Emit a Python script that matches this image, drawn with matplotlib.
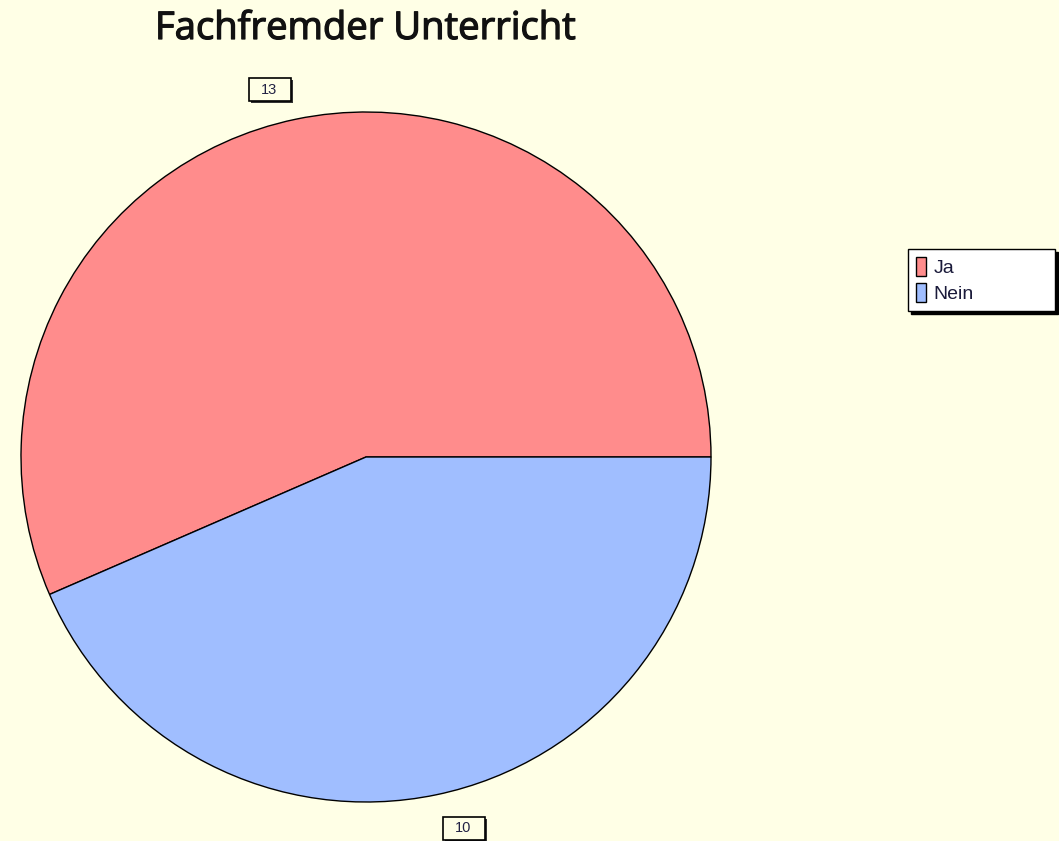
import matplotlib
matplotlib.use("Agg")
import matplotlib.pyplot as plt
import matplotlib.patheffects as pe
from matplotlib.patches import Rectangle

categories = ["Ja", "Nein"]
values = [13, 10]
colors = ["#FF8C8C", "#A0BEFF"]
title = "Fachfremder Unterricht"

W, H = 1059, 841
bg = "#FFFFE6"
fig = plt.figure(figsize=(W / 100, H / 100), dpi=100, facecolor=bg)
ax = fig.add_axes([0, 0, 1, 1])
ax.set_facecolor(bg)

cx, cy, r = 366, H - 457, 345
wedges, _ = ax.pie(values, colors=colors, startangle=0, counterclock=True,
                   center=(cx, cy), radius=r, frame=True,
                   wedgeprops=dict(edgecolor="black", linewidth=1.0))
ax.set_xlim(0, W)
ax.set_ylim(0, H)
ax.set_aspect("equal")
ax.axis("off")

# value labels in boxes
label_pos = [(269.5, H - 89.5), (463.5, H - 828.5)]
bw, bh = 42, 23
for (x, y), v in zip(label_pos, values):
    ax.add_patch(Rectangle((x - bw / 2 + 2, y - bh / 2 - 2), bw, bh,
                           facecolor="#333333", edgecolor="none", zorder=4))
    ax.add_patch(Rectangle((x - bw / 2, y - bh / 2), bw, bh,
                           facecolor=bg, edgecolor="black", linewidth=1.2, zorder=5))
    ax.text(x, y, str(v), ha="center", va="center", fontsize=10.5, color="#222244",
            family="Liberation Sans", zorder=6)

ax.text(366, H - 29, title, ha="center", va="center", fontsize=27.5,
        family="Open Sans", fontweight="normal", color="#111111",
        path_effects=[pe.withStroke(linewidth=0.9, foreground="#111111")])

leg = ax.legend(wedges, categories, loc="upper left",
                bbox_to_anchor=(908 / W, 1 - 311 / H, 147 / W, 62 / H),
                bbox_transform=fig.transFigure, mode="expand",
                prop={"family": "Liberation Sans", "size": 14},
                frameon=True, fancybox=False,
                shadow={"color": "black", "alpha": 1},
                handlelength=0.5, handleheight=1.15, handletextpad=0.4,
                borderpad=0.4, labelspacing=0.3, borderaxespad=0)
leg.get_frame().set_edgecolor("black")
leg.get_frame().set_facecolor("white")
leg.get_frame().set_linewidth(1.0)
for t in leg.get_texts():
    t.set_color("#1a1a3a")

fig.savefig("out.png", dpi=100, facecolor=bg)
